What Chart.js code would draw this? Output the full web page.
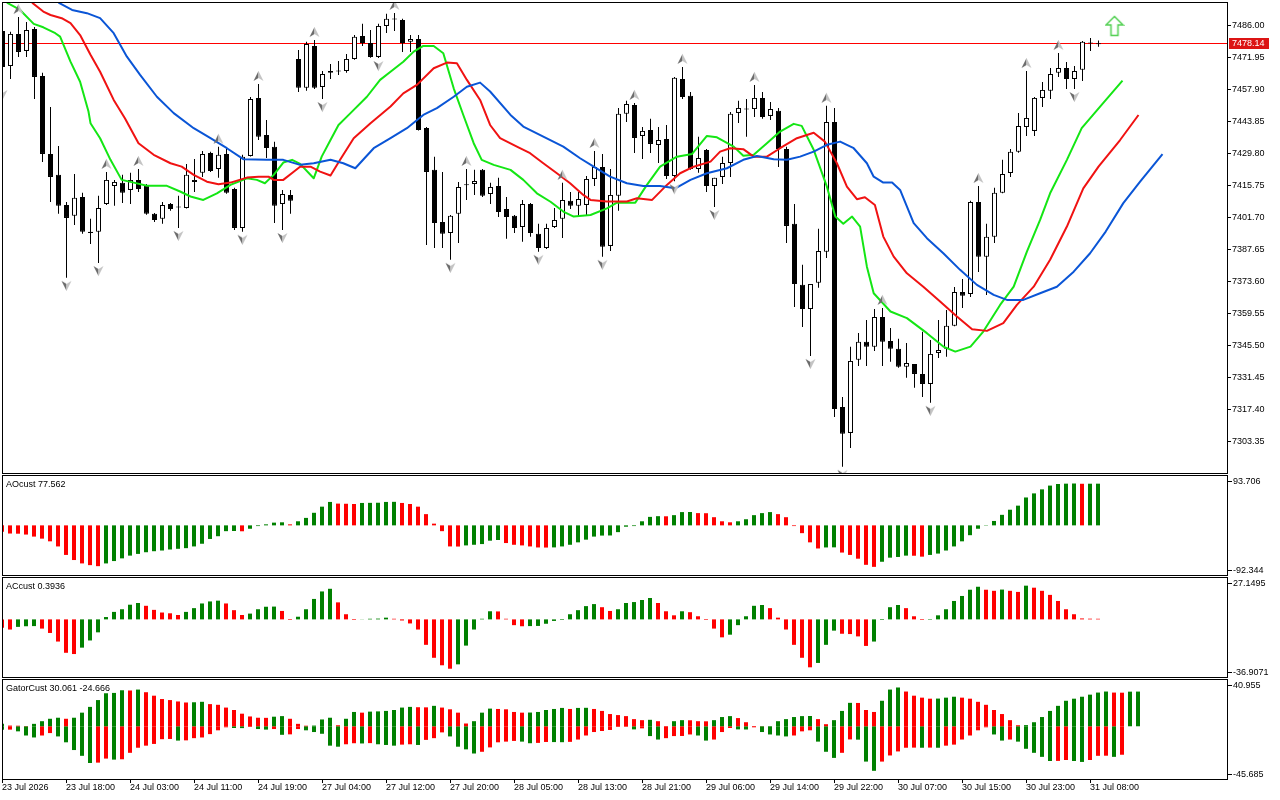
<!DOCTYPE html>
<html>
<head>
<meta charset="utf-8">
<title>Alligator H1</title>
<script src="https://cdn.jsdelivr.net/npm/chart.js@4.4.1/dist/chart.umd.min.js"></script>
<style>
  html, body { margin: 0; padding: 0; background: #fff; }
  body { width: 1280px; height: 800px; position: relative; overflow: hidden; }
  canvas { position: absolute; left: 0; }
</style>
</head>
<body>
<canvas id="main" width="1280" height="475" style="top:0"></canvas>
<canvas id="ao" width="1280" height="102" style="top:474px"></canvas>
<canvas id="ac" width="1280" height="102" style="top:576px"></canvas>
<canvas id="gator" width="1280" height="122" style="top:678px"></canvas>
<script>
// ============================================================
// H1 candles + Alligator, fractals, AO / AC / Gator panels
// ============================================================

// --- axis labels ---
const timeLabels = ['23 Jul 2026', '23 Jul 18:00', '24 Jul 03:00', '24 Jul 11:00', '24 Jul 19:00',
  '27 Jul 04:00', '27 Jul 12:00', '27 Jul 20:00', '28 Jul 05:00', '28 Jul 13:00', '28 Jul 21:00',
  '29 Jul 06:00', '29 Jul 14:00', '29 Jul 22:00', '30 Jul 07:00', '30 Jul 15:00', '30 Jul 23:00', '31 Jul 08:00'];
const priceTicks = [7486.00, 7471.95, 7457.90, 7443.85, 7429.80, 7415.75, 7401.70,
  7387.65, 7373.60, 7359.55, 7345.50, 7331.45, 7317.40, 7303.35];
const priceRange = [7289.4, 7496.2];

// --- candles (one per hour) ---
const opens = [
  7483.5,7468.1,7482.2,7474.7,7484.4,7463.7,7429.5,7420.3,7407.1,7402.3,
  7410.6,7395.3,7395.3,7407.5,7415.4,7416.8,7413.7,7418.1,7415.9,7403.2,
  7401.0,7407.5,7406.2,7405.8,7417.2,7421.2,7429.9,7422.9,7429.5,7414.1,
  7397.0,7428.6,7454.1,7437.8,7432.6,7407.5,7411.5,7471.2,7458.5,7476.9,
  7458.9,7465.1,7465.9,7465.9,7471.2,7481.3,7478.2,7472.1,7485.7,7488.5,
  7488.3,7478.7,7480.0,7440.9,7422.5,7399.6,7394.8,7403.2,7415.9,7416.3,
  7422.5,7411.9,7415.4,7405.3,7402.3,7397.4,7407.5,7394.4,7388.2,7397.4,
  7401.0,7408.9,7406.7,7407.1,7418.5,7423.8,7389.1,7411.1,7447.1,7451.0,
  7437.4,7440.0,7433.4,7436.1,7419.8,7462.4,7455.0,7422.9,7431.2,7415.4,
  7419.4,7425.5,7447.5,7449.2,7449.2,7454.1,7446.2,7448.4,7431.7,7398.8,
  7372.0,7361.4,7372.9,7386.5,7443.5,7318.4,7307.0,7339.1,7347.0,7344.8,
  7357.9,7347.4,7343.9,7336.0,7337.3,7332.9,7328.5,7342.1,7343.9,7354.0,
  7368.9,7368.0,7408.4,7384.3,7393.1,7412.4,7421.1,7430.4,7441.3,7439.6,
  7454.1,7457.2,7465.1,7467.2,7462.4,7466.4,7478.2,7477.6];
const highs = [
  7484.8,7483.1,7489.6,7487.4,7485.2,7465.1,7450.1,7433.0,7408.4,7420.7,
  7412.4,7401.0,7411.1,7421.6,7418.1,7420.3,7421.2,7422.9,7416.3,7403.6,
  7408.4,7408.0,7411.1,7425.1,7427.3,7430.8,7430.4,7432.6,7431.7,7414.6,
  7429.1,7454.5,7460.2,7444.4,7434.8,7413.7,7413.7,7475.1,7478.7,7479.5,
  7465.9,7469.0,7470.3,7473.4,7481.7,7486.6,7483.9,7486.6,7491.0,7491.4,
  7488.8,7481.7,7481.7,7441.3,7428.2,7421.6,7402.7,7417.2,7422.9,7422.5,
  7422.9,7416.8,7419.0,7410.6,7402.7,7409.3,7407.9,7398.8,7398.8,7405.8,
  7416.8,7412.8,7412.8,7419.8,7430.8,7429.5,7422.9,7449.7,7452.8,7451.9,
  7441.3,7444.9,7441.3,7442.2,7463.3,7467.7,7456.7,7437.0,7431.7,7419.0,
  7428.2,7447.9,7452.8,7453.6,7459.8,7456.7,7452.3,7449.7,7432.6,7407.5,
  7380.8,7372.4,7396.6,7450.6,7449.7,7322.8,7344.8,7350.9,7356.6,7361.4,
  7361.9,7353.1,7348.3,7346.5,7337.3,7351.4,7347.8,7356.6,7361.0,7371.1,
  7374.6,7408.9,7415.4,7398.8,7414.6,7426.9,7431.7,7447.5,7465.9,7454.5,
  7461.1,7467.2,7473.8,7469.9,7468.1,7479.1,7480.4,7479.3];
const lows = [
  7458.9,7462.4,7472.1,7472.1,7453.6,7426.0,7408.4,7403.2,7375.1,7398.3,
  7394.4,7390.0,7381.6,7407.1,7406.7,7408.0,7407.5,7412.8,7402.8,7399.6,
  7398.8,7404.5,7397.0,7405.5,7412.8,7419.4,7421.6,7419.0,7412.0,7396.1,
  7395.3,7428.4,7435.6,7427.7,7399.2,7396.1,7403.2,7456.7,7457.2,7458.0,
  7453.6,7462.4,7464.2,7465.1,7470.8,7476.9,7471.7,7471.6,7482.6,7483.5,
  7474.3,7474.3,7439.8,7389.5,7388.2,7388.2,7383.0,7390.4,7409.3,7411.5,
  7410.6,7407.5,7401.8,7392.2,7394.8,7390.9,7393.1,7386.5,7387.8,7397.0,
  7392.6,7405.3,7401.8,7402.7,7415.4,7384.3,7386.9,7404.5,7443.5,7429.9,
  7427.3,7429.9,7425.5,7418.5,7417.5,7453.6,7422.5,7421.2,7412.8,7406.2,
  7416.3,7419.4,7443.1,7437.0,7445.7,7444.9,7444.4,7423.8,7390.4,7362.3,
  7353.5,7340.8,7370.7,7383.8,7314.0,7292.1,7300.4,7336.4,7336.4,7343.0,
  7336.4,7338.2,7335.6,7331.2,7326.8,7322.8,7320.2,7339.9,7340.4,7353.8,
  7361.9,7366.7,7377.7,7367.6,7390.4,7412.2,7419.4,7430.0,7437.4,7437.4,
  7450.1,7453.6,7463.3,7458.0,7458.0,7461.5,7474.7,7476.6];
const closes = [
  7467.7,7482.2,7474.3,7483.9,7463.3,7429.5,7419.4,7406.7,7401.4,7410.2,
  7395.3,7394.8,7405.8,7418.1,7417.2,7412.4,7418.1,7414.1,7403.2,7400.5,
  7407.1,7405.3,7406.0,7420.3,7418.1,7429.5,7422.0,7429.1,7412.4,7397.0,
  7428.2,7453.6,7437.0,7432.1,7406.7,7411.9,7408.9,7458.5,7477.8,7458.5,
  7464.6,7465.9,7465.7,7471.2,7480.9,7478.2,7472.1,7485.7,7488.8,7488.7,
  7478.2,7480.0,7440.0,7421.6,7399.2,7394.4,7402.3,7415.0,7415.7,7417.6,
  7411.1,7415.0,7404.0,7401.8,7397.0,7407.5,7394.8,7388.2,7397.0,7400.5,
  7409.3,7406.7,7409.7,7418.5,7423.8,7388.7,7411.5,7447.1,7451.4,7436.5,
  7439.6,7433.9,7435.6,7419.8,7462.9,7454.5,7422.9,7427.7,7415.4,7419.0,
  7425.5,7447.1,7449.7,7449.0,7454.1,7445.7,7449.2,7431.7,7397.9,7372.4,
  7361.4,7372.4,7386.9,7443.5,7317.5,7306.6,7338.6,7347.0,7344.8,7357.9,
  7347.0,7343.9,7336.0,7337.7,7332.9,7328.5,7341.7,7343.4,7354.0,7368.9,
  7367.2,7408.4,7384.3,7393.1,7412.4,7420.7,7430.4,7441.8,7445.3,7454.1,
  7457.6,7464.6,7467.2,7462.4,7465.9,7478.7,7478.0,7478.14];

// --- Alligator lines, [bar, price] (shifted forward past the last bar) ---
const lipsLine = [[0.55,7495.9],[2.2,7492.7],[3.9,7486.6],[5.1,7485.1],[6.6,7482.5],[7.2,7481.0],[8.5,7470.0],
  [9.7,7461.2],[10.75,7448.1],[11.0,7443.0],[12.2,7436.4],[13.5,7426.9],[14.9,7418.1],[16.4,7416.9],[18.05,7415.5],
  [20.55,7415.5],[22.2,7413.0],[23.5,7410.8],[25.1,7409.3],[26.8,7412.2],[28.5,7415.9],[30.55,7418.8],[31.8,7418.1],
  [32.8,7416.6],[33.9,7420.3],[35.1,7425.7],[36.2,7426.9],[37.2,7425.1],[38.9,7418.8],[39.9,7428.3],[41.0,7435.6],
  [42.0,7442.2],[43.5,7447.4],[45.55,7454.6],[47.2,7462.0],[48.5,7465.6],[50.1,7470.0],[51.4,7474.4],[52.6,7476.9],
  [53.9,7476.9],[55.1,7473.7],[56.4,7458.3],[57.6,7446.6],[58.9,7434.2],[59.9,7426.9],[61.4,7424.7],[63.5,7422.5],
  [65.1,7418.1],[66.8,7412.2],[68.5,7408.5],[70.1,7404.2],[71.4,7402.0],[73.5,7402.7],[75.55,7405.6],[76.8,7408.1],
  [79.1,7408.1],[80.55,7415.9],[82.2,7423.9],[84.3,7428.3],[86.2,7429.5],[88.05,7437.4],[89.3,7436.8],[91.4,7432.7],
  [92.6,7428.7],[93.9,7429.1],[95.55,7434.2],[97.2,7439.3],[98.9,7442.7],[99.9,7441.8],[101.4,7431.3],[103.05,7415.1],
  [104.1,7402.0],[105.1,7398.8],[106.2,7402.0],[107.2,7397.6],[108.05,7380.0],[108.9,7368.3],[111.0,7360.3],
  [113.05,7357.4],[115.55,7350.8],[117.6,7344.9],[119.1,7342.7],[121.0,7344.9],[122.6,7351.5],[124.7,7363.2],
  [126.4,7371.2],[128.05,7386.6],[129.7,7400.5],[130.95,7412.2],[133.05,7426.9],[134.9,7440.8],[137.2,7450.3],[140.0,7461.7]];
const teethLine = [[3.7,7495.9],[5.1,7492.0],[6.0,7490.5],[7.4,7489.1],[8.5,7486.9],[9.7,7481.7],[11.0,7473.0],
  [12.2,7465.6],[13.9,7453.2],[15.3,7445.2],[17.0,7434.2],[18.9,7429.1],[21.0,7425.4],[22.4,7423.9],[23.9,7420.3],
  [25.55,7417.3],[27.0,7416.2],[28.5,7416.9],[30.55,7419.1],[32.0,7419.5],[33.25,7419.5],[33.9,7418.1],[35.1,7418.1],
  [36.4,7421.7],[37.2,7423.9],[38.5,7423.9],[39.7,7421.7],[41.0,7420.0],[42.2,7426.9],[43.9,7436.4],[46.0,7443.0],
  [48.5,7450.3],[50.1,7456.1],[51.8,7459.8],[53.9,7467.1],[55.55,7469.6],[56.8,7469.3],[58.05,7462.0],[59.7,7453.2],
  [60.95,7442.2],[62.2,7436.4],[64.3,7432.7],[65.95,7429.8],[67.6,7425.4],[69.3,7421.0],[70.95,7416.6],[72.6,7411.5],
  [73.5,7409.3],[75.55,7408.6],[78.05,7408.6],[79.3,7410.0],[81.2,7409.3],[83.05,7415.9],[84.7,7421.0],[86.4,7423.9],
  [88.5,7426.1],[89.7,7430.5],[90.95,7432.0],[92.6,7431.6],[93.9,7428.3],[95.55,7428.3],[97.2,7432.0],[99.3,7436.4],
  [101.4,7438.8],[102.8,7434.9],[104.3,7425.4],[105.55,7415.1],[106.8,7409.6],[107.8,7410.5],[109.05,7407.1],
  [110.1,7393.2],[111.4,7384.4],[113.05,7377.1],[115.1,7371.2],[117.2,7364.7],[119.3,7358.1],[121.2,7352.5],
  [123.05,7351.8],[125.1,7355.2],[126.8,7363.2],[128.9,7371.2],[130.95,7383.0],[133.05,7397.6],[135.1,7414.4],
  [137.0,7423.9],[139.7,7435.6],[142.0,7446.6]];
const jawLine = [[7.0,7495.9],[8.7,7492.7],[10.55,7491.3],[12.2,7489.1],[13.9,7482.5],[15.55,7472.2],[17.2,7464.2],
  [19.3,7454.6],[21.4,7447.4],[23.9,7440.8],[26.0,7436.4],[28.05,7432.0],[30.1,7427.2],[33.05,7426.9],[35.1,7426.9],
  [37.2,7424.7],[38.9,7425.4],[41.0,7426.9],[42.6,7425.4],[44.1,7423.2],[46.4,7432.0],[48.5,7436.4],[50.55,7440.8],
  [52.6,7446.6],[54.3,7449.6],[56.4,7454.6],[58.05,7459.0],[59.7,7460.8],[60.95,7456.9],[63.5,7446.6],[65.1,7441.5],
  [67.6,7437.1],[70.1,7432.7],[72.2,7427.6],[73.9,7423.9],[75.95,7419.5],[78.05,7416.6],[80.1,7415.4],[82.2,7415.4],
  [84.1,7414.4],[86.0,7418.1],[88.05,7421.0],[90.55,7423.2],[92.6,7426.9],[94.3,7428.6],[96.4,7427.2],[98.05,7426.9],
  [99.7,7428.3],[101.4,7430.5],[103.05,7433.5],[104.7,7434.9],[106.4,7432.0],[108.05,7425.4],[108.9,7419.5],
  [110.1,7416.9],[111.2,7416.9],[112.2,7413.7],[113.9,7399.1],[115.55,7392.5],[117.6,7385.9],[119.7,7378.6],
  [121.8,7372.0],[123.9,7367.6],[125.55,7365.4],[127.6,7365.4],[129.7,7368.3],[131.8,7371.2],[133.9,7377.8],
  [135.95,7385.9],[137.9,7395.4],[140.1,7407.9],[142.2,7417.3],[145.0,7429.4]];

// --- fractals (bar numbers) and the signal arrow [bar, price] ---
const upFractals = [2, 13, 17, 27, 32, 39, 49, 58, 70, 74, 79, 85, 94, 103, 110, 122, 128, 132];
const downFractals = [0, 8, 12, 22, 30, 35, 40, 47, 56, 67, 75, 84, 89, 101, 105, 116, 134];
const signalArrow = [139, 7485.7];

// --- oscillators ---
const aoRange = [-92.344, 93.706];
const aoValues = [
  -12.0,-15.2,-15.5,-17.1,-20.9,-24.7,-29.7,-39.2,-55.0,-64.5,
  -70.8,-74.0,-75.9,-70.8,-66.4,-61.4,-56.3,-53.1,-50.0,-48.1,
  -46.8,-44.9,-43.6,-42.4,-39.2,-34.2,-25.3,-20.2,-10.8,-10.5,
  -11.0,-6.3,-1.3,1.9,5.1,5.7,1.9,7.6,13.9,23.4,
  34.8,43.6,40.5,40.2,39.8,41.7,41.9,42.1,43.6,43.8,
  41.7,39.8,34.8,20.9,3.2,-10.8,-39.2,-39.4,-37.3,-36.1,
  -34.8,-28.5,-27.2,-32.9,-36.1,-37.3,-39.2,-41.1,-41.3,-41.0,
  -39.2,-36.1,-31.6,-26.6,-20.9,-19.0,-18.8,-12.6,-2.5,-1.3,
  7.6,15.8,17.1,16.9,19.0,24.7,24.9,22.8,22.6,15.2,
  7.6,5.7,7.6,11.4,19.0,22.8,24.7,20.9,15.2,-1.3,
  -14.5,-31.6,-43.0,-41.1,-40.9,-50.6,-55.0,-62.0,-73.4,-77.2,
  -67.7,-60.1,-58.8,-56.3,-56.5,-58.2,-55.0,-52.5,-46.8,-39.2,
  -29.7,-18.3,-6.3,0.6,8.2,19.6,29.1,36.7,51.9,59.5,
  67.0,74.0,77.0,77.6,77.9,77.4,77.5,77.562];
const acRange = [-36.9071, 27.1495];
const acValues = [
  -5.4,-6.5,-4.8,-4.4,-4.3,-5.9,-8.7,-14.2,-21.4,-22.2,
  -18.1,-13.5,-8.3,1.5,4.8,6.5,9.4,10.5,8.7,6.1,
  4.4,3.9,2.8,4.8,7.2,10.2,11.5,12.0,10.2,5.9,
  2.8,3.7,6.5,8.1,8.2,5.4,-0.4,1.7,6.5,13.1,
  17.9,19.6,10.9,3.3,-0.4,0.1,0.4,0.5,1.1,0.4,
  -0.7,-2.6,-6.5,-16.3,-24.6,-29.4,-31.6,-28.8,-16.8,-6.5,
  0.4,5.2,5.1,0.4,-3.7,-4.4,-4.3,-4.2,-2.8,-1.0,
  -0.4,3.3,5.9,8.5,9.8,7.8,5.4,6.5,10.5,11.1,
  12.4,13.7,10.5,5.2,2.6,5.2,4.6,2.0,-0.4,-5.9,
  -11.5,-9.8,-3.7,2.0,8.7,9.2,7.2,1.1,-6.5,-16.3,
  -24.6,-30.7,-27.9,-16.3,-7.2,-9.2,-9.4,-10.9,-17.0,-14.2,
  -0.4,7.8,9.2,7.2,2.0,-0.4,-0.3,2.6,6.5,11.8,
  15.0,19.0,20.9,19.0,18.3,19.1,18.3,17.6,21.6,20.3,
  18.3,15.7,11.8,6.5,3.3,0.6,0.45,0.3936];
const gatorRange = [-45.685, 40.955];
const gatorUpper = [
  2.1,0.6,0.5,0.2,2.1,4.4,6.5,7.4,6.5,7.4,
  11.8,16.8,22.7,28.6,28.9,31.2,31.0,31.8,29.5,26.5,
  23.6,22.7,21.5,20.6,20.8,21.2,19.2,18.6,16.2,14.1,
  10.9,8.5,7.4,7.3,8.3,8.8,6.5,2.1,0.5,0.6,
  5.9,7.4,0.9,6.5,12.4,11.8,12.7,12.9,13.3,14.1,
  16.2,16.8,16.5,16.4,17.7,16.2,14.7,11.8,2.4,4.4,
  11.8,15.3,15.0,14.7,12.4,11.8,11.9,12.4,14.1,15.0,
  15.9,15.0,15.9,16.0,15.0,13.3,10.6,9.7,8.8,6.2,
  5.3,5.6,4.4,0.1,4.4,5.3,5.2,4.4,4.3,5.3,
  8.0,8.8,7.1,3.5,0.2,0.1,0.0,4.4,6.2,8.0,
  8.8,8.9,6.2,1.8,5.3,13.3,20.3,20.2,14.1,12.4,
  22.1,31.8,33.6,30.1,26.5,24.8,23.9,24.0,24.8,25.6,
  24.8,23.9,21.2,18.6,14.1,10.6,5.3,0.9,1.0,3.5,
  8.0,13.3,17.7,22.1,23.9,25.6,27.4,29.2,30.1,29.2,
  29.1,30.0,30.061];
const gatorLower = [
  -3.0,-2.9,-4.4,-8.0,-9.7,-8.0,-5.9,-8.8,-13.9,-20.6,
  -25.6,-31.8,-31.5,-28.0,-28.9,-28.6,-23.0,-18.6,-16.8,-15.3,
  -11.2,-11.0,-12.4,-12.2,-10.3,-9.7,-6.8,-3.5,-0.9,-1.5,
  -1.6,-0.6,-2.4,-2.9,-2.4,-7.4,-7.0,-2.4,-3.5,-5.0,
  -6.5,-16.8,-17.7,-15.6,-14.7,-14.9,-14.6,-15.6,-16.2,-16.8,
  -15.9,-15.6,-16.2,-11.8,-10.3,-5.3,-8.8,-17.7,-20.0,-23.6,
  -22.1,-18.3,-13.9,-13.3,-12.7,-13.3,-14.7,-14.4,-13.6,-13.7,
  -13.8,-13.5,-11.5,-8.0,-5.0,-4.1,-3.2,-0.6,-0.5,-2.7,
  -1.8,-8.5,-11.5,-10.3,-8.5,-8.4,-7.1,-8.0,-12.4,-11.5,
  -5.0,-1.5,-2.7,-2.8,-0.9,-5.0,-7.1,-8.0,-8.8,-8.0,
  -4.4,-3.5,-13.3,-22.1,-27.4,-23.0,-11.4,-11.6,-30.6,-38.6,
  -30.6,-25.3,-21.8,-18.6,-18.5,-18.6,-18.5,-18.6,-16.8,-15.9,
  -11.5,-8.0,-3.5,-0.9,-7.1,-12.4,-11.5,-13.3,-19.5,-23.0,
  -26.5,-30.1,-30.0,-29.2,-30.1,-30.9,-29.2,-25.6,-25.5,-26.5,
  -24.666];

// ============================================================
Chart.defaults.font.family = '"Liberation Sans", Arial, sans-serif';
Chart.defaults.font.size = 9;
Chart.defaults.color = '#000';
Chart.defaults.animation = false;
Chart.defaults.events = [];
Chart.defaults.plugins.legend.display = false;
Chart.defaults.plugins.tooltip.enabled = false;

const GREEN = '#008000', RED = '#ff0000';
const FONT = '9px "Liberation Sans", Arial, sans-serif';

// black frame around every panel
const framePlugin = {
  id: 'frame',
  afterDatasetsDraw(chart) {
    const { ctx, chartArea: a } = chart;
    ctx.save();
    ctx.strokeStyle = '#000';
    ctx.lineWidth = 1;
    ctx.strokeRect(a.left + 0.5, a.top + 0.5, a.right - a.left, a.bottom - a.top);
    ctx.restore();
  }
};

// current price line + red label on the price axis
const lastPricePlugin = {
  id: 'lastPrice',
  beforeDatasetsDraw(chart, args, o) {
    const { ctx, chartArea: a, scales: { y } } = chart;
    const py = Math.round(y.getPixelForValue(o.value));
    ctx.save();
    ctx.fillStyle = '#ff0000';
    ctx.fillRect(a.left, py, a.right - a.left, 1);
    ctx.restore();
  },
  afterDraw(chart, args, o) {
    const { ctx, chartArea: a, scales: { y } } = chart;
    const py = Math.round(y.getPixelForValue(o.value));
    ctx.save();
    ctx.fillStyle = '#dc1414';
    ctx.fillRect(a.right + 2, py - 5, 40, 11);
    ctx.fillStyle = '#fff';
    ctx.font = FONT;
    ctx.textBaseline = 'middle';
    ctx.fillText(o.value.toFixed(2), a.right + 5, py + 0.5);
    ctx.restore();
  }
};

// indicator name + min/max labels of a sub window
const panelPlugin = {
  id: 'panel',
  afterDraw(chart, args, o) {
    const { ctx, chartArea: a } = chart;
    const top = Math.round(a.top + 6), bot = Math.round(a.bottom - 5);
    ctx.save();
    ctx.font = FONT;
    ctx.fillStyle = '#000';
    ctx.textBaseline = 'middle';
    ctx.fillText(o.title, a.left + 4, a.top + 10);
    ctx.fillRect(a.right + 1, top, 4, 1);
    ctx.fillRect(a.right + 1, bot, 4, 1);
    ctx.fillText(o.range[1].toFixed(o.digits), a.right + 6, top + 0.5);
    ctx.fillText(o.range[0].toFixed(o.digits), a.right + 6, bot + 0.5);
    ctx.restore();
  }
};

// grey fractal arrow, drawn 8px away from the bar's high/low
function fractalImage(up) {
  const c = document.createElement('canvas');
  c.width = 13; c.height = 32;
  const g = c.getContext('2d');
  const cx = 6.5, cy = up ? 8 : 24, s = up ? 1 : -1;
  g.fillStyle = '#6c6c6c';
  g.beginPath(); g.moveTo(cx, cy - 5 * s); g.lineTo(cx - 5, cy + 5 * s); g.lineTo(cx, cy + 2 * s); g.closePath(); g.fill();
  g.fillStyle = '#c4c4c4';
  g.beginPath(); g.moveTo(cx, cy - 5 * s); g.lineTo(cx + 5, cy + 5 * s); g.lineTo(cx, cy + 2 * s); g.closePath(); g.fill();
  return c;
}

function signalImage() {
  const c = document.createElement('canvas');
  c.width = 20; c.height = 22;
  const g = c.getContext('2d');
  g.beginPath();
  g.moveTo(10, 1.5); g.lineTo(18.5, 10); g.lineTo(13.5, 10); g.lineTo(13.5, 20.5);
  g.lineTo(6.5, 20.5); g.lineTo(6.5, 10); g.lineTo(1.5, 10); g.closePath();
  g.fillStyle = '#fff'; g.fill();
  g.strokeStyle = '#4fcf4f'; g.lineWidth = 1.5; g.stroke();
  return c;
}

const noPad = s => { s.paddingTop = 0; s.paddingBottom = 0; s.paddingLeft = 0; s.paddingRight = 0; };

// ---------------- main window ----------------
const bars = opens.map((_, i) => i);
const lineDs = (data, color) => ({
  type: 'line', data, borderColor: color, borderWidth: 2, pointRadius: 0,
  tension: 0, borderJoinStyle: 'round', order: 1
});

new Chart(document.getElementById('main'), {
  type: 'bar',
  data: {
    datasets: [
      { type: 'scatter', data: upFractals.map(i => ({ x: i, y: highs[i] })), pointStyle: fractalImage(true), pointRadius: 5, order: 0 },
      { type: 'scatter', data: downFractals.map(i => ({ x: i, y: lows[i] })), pointStyle: fractalImage(false), pointRadius: 5, order: 0 },
      { type: 'scatter', data: [{ x: signalArrow[0], y: signalArrow[1] }], pointStyle: signalImage(), pointRadius: 5, order: 0 },
      lineDs(jawLine, '#0a55d6'),
      lineDs(teethLine, '#f01212'),
      lineDs(lipsLine, '#14e614'),
      {
        data: bars.map(i => ({ x: i, y: [opens[i], closes[i]] })),
        backgroundColor: bars.map(i => closes[i] >= opens[i] ? '#fff' : '#000'),
        borderColor: '#000', borderWidth: 1, borderSkipped: false,
        barThickness: 5, grouped: false, minBarLength: 1, inflateAmount: 0, order: 3
      },
      {
        data: bars.map(i => ({ x: i, y: [lows[i], highs[i]] })),
        backgroundColor: '#000', borderWidth: 0,
        barThickness: 1, grouped: false, inflateAmount: 0, order: 4
      }
    ]
  },
  options: {
    responsive: false,
    layout: { autoPadding: false, padding: { left: 2, top: 2, bottom: 2, right: 0 } },
    scales: {
      x: { type: 'linear', min: -0.0625, max: 153.0625, offset: false, display: false, grid: { offset: false } },
      y: {
        type: 'linear', position: 'right', min: priceRange[0], max: priceRange[1],
        afterBuildTicks: s => { s.ticks = priceTicks.map(v => ({ value: v })); },
        afterFit: s => { s.width = 53; noPad(s); },
        grid: { drawOnChartArea: false, drawTicks: true, tickLength: 4, color: '#000' },
        border: { display: false },
        ticks: { padding: 1, autoSkip: false, callback: v => v.toFixed(2) }
      }
    },
    plugins: { lastPrice: { value: closes[closes.length - 1] } }
  },
  plugins: [framePlugin, lastPricePlugin]
});

// ---------------- sub windows ----------------
function trendColors(vals, first, byAbs) {
  return vals.map((v, i) => {
    if (i === 0) return first;
    const cur = byAbs ? Math.abs(v) : v;
    const prev = byAbs ? Math.abs(vals[i - 1]) : vals[i - 1];
    return cur > prev ? GREEN : RED;
  });
}

function histDs(vals, colors) {
  return {
    data: vals.map((v, i) => ({ x: i, y: v })),
    backgroundColor: colors, borderWidth: 0,
    barThickness: 4, grouped: false, inflateAmount: 0
  };
}

const timeAxis = {
  type: 'linear', min: 0, max: 153.125, offset: false,
  afterBuildTicks: s => { s.ticks = timeLabels.map((_, k) => ({ value: k * 8 })); },
  afterFit: s => { s.height = 21; noPad(s); },
  grid: { drawOnChartArea: false, drawTicks: true, tickLength: 4, color: '#000', offset: false },
  border: { display: false },
  ticks: { align: 'start', autoSkip: false, maxRotation: 0, minRotation: 0, padding: -1,
           callback: v => timeLabels[Math.round(v / 8)] }
};

function subChart(id, datasets, range, title, digits, withTime) {
  return new Chart(document.getElementById(id), {
    type: 'bar',
    data: { datasets },
    options: {
      responsive: false,
      layout: { autoPadding: false, padding: { left: 2, right: 53, top: 1, bottom: withTime ? 0 : 1 } },
      scales: {
        x: withTime ? timeAxis : { type: 'linear', min: 0, max: 153.125, offset: false, display: false, grid: { offset: false } },
        y: { type: 'linear', min: range[0], max: range[1], display: false }
      },
      plugins: { panel: { title, range, digits } }
    },
    plugins: [framePlugin, panelPlugin]
  });
}

subChart('ao', [histDs(aoValues, trendColors(aoValues, RED, false))],
  aoRange, 'AOcust ' + aoValues[aoValues.length - 1], 3, false);
subChart('ac', [histDs(acValues, trendColors(acValues, RED, false))],
  acRange, 'ACcust ' + acValues[acValues.length - 1], 4, false);
subChart('gator', [
    histDs(gatorUpper, trendColors(gatorUpper, GREEN, true)),
    histDs(gatorLower, trendColors(gatorLower, GREEN, true))
  ],
  gatorRange, 'GatorCust ' + gatorUpper[gatorUpper.length - 1] + ' ' + gatorLower[gatorLower.length - 1], 3, true);
</script>
</body>
</html>
